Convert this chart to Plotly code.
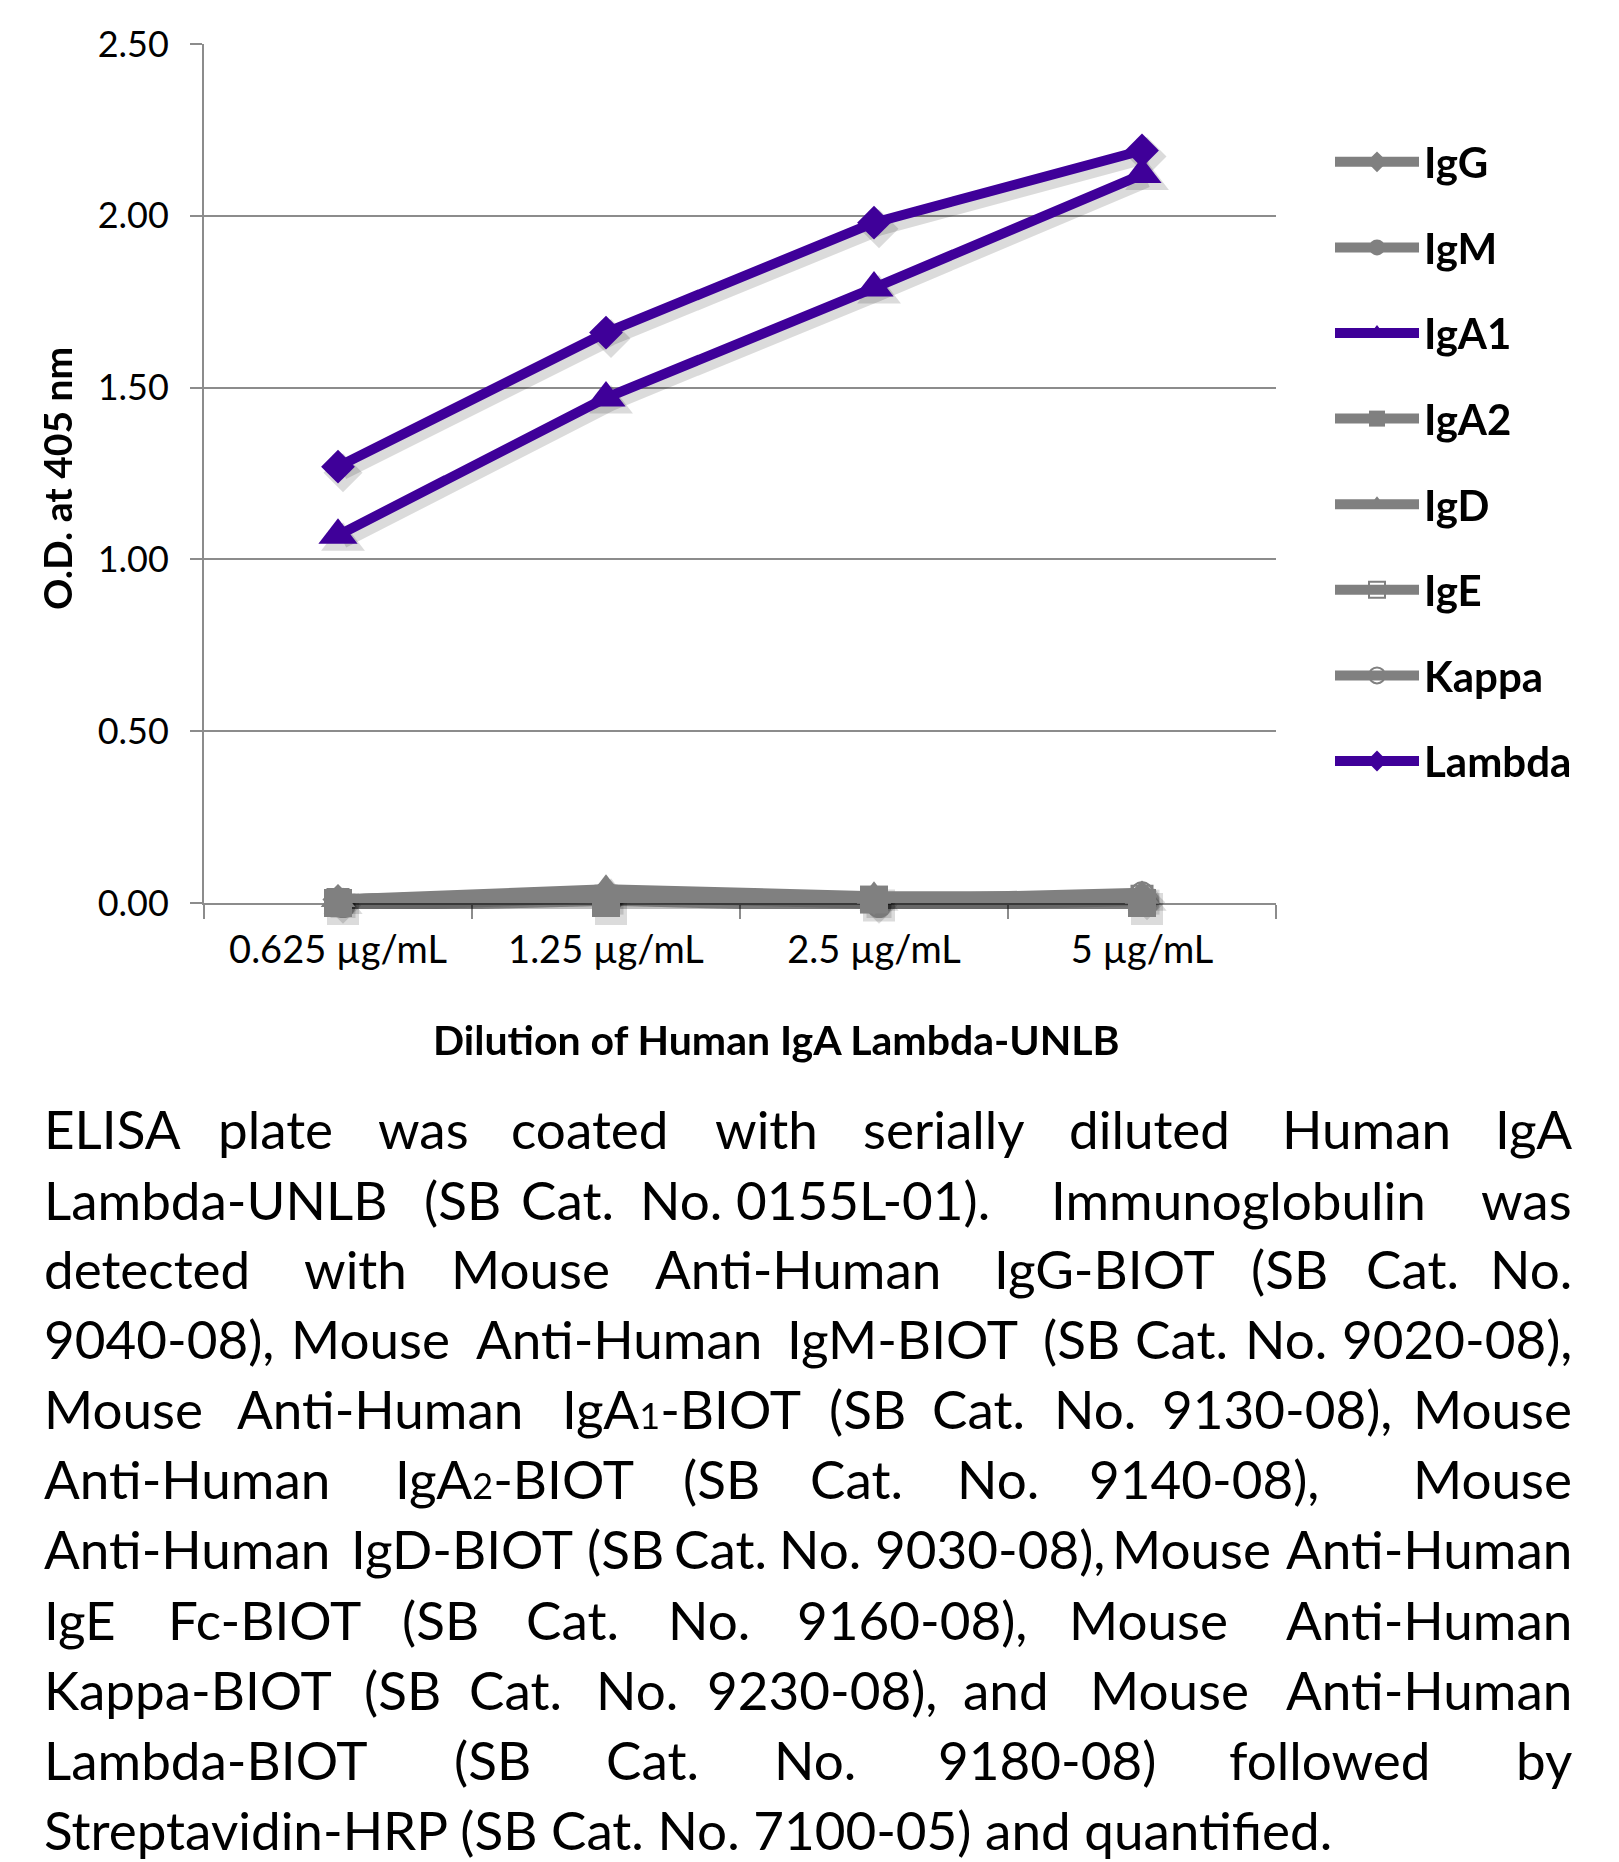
import plotly.graph_objects as go

# ---------------- data ----------------
categories = ["0.625 µg/mL", "1.25 µg/mL", "2.5 µg/mL", "5 µg/mL"]
series_names = ["IgG", "IgM", "IgA1", "IgA2", "IgD", "IgE", "Kappa", "Lambda"]
igg = [0.01, 0.03, 0.01, 0.02]
igm = [0.01, 0.03, 0.01, 0.02]
iga1 = [1.07, 1.47, 1.79, 2.12]
iga2 = [0.00, 0.00, 0.01, 0.00]
igd = [0.01, 0.04, 0.02, 0.02]
ige = [0.01, 0.02, 0.01, 0.02]
kappa = [0.01, 0.03, 0.01, 0.03]
lambda_ = [1.27, 1.66, 1.98, 2.19]
y_ticks = [0, 0.5, 1.0, 1.5, 2.0, 2.5]

x_title = "Dilution of Human IgA Lambda-UNLB"
y_title = "O.D. at 405 nm"

# ---------------- styling ----------------
W, H = 1619, 1862
FONT = "Lato, 'Open Sans', sans-serif"
PURPLE = "#3f0099"
GRAY = "#808080"
AXIS_GRAY = "#8c8c8c"

values = [igg, igm, iga1, iga2, igd, ige, kappa, lambda_]
colors = [GRAY, GRAY, PURPLE, GRAY, GRAY, GRAY, GRAY, PURPLE]
symbols = ["diamond", "circle", "triangle-up", "square", "triangle-up",
           "square-open", "circle-open", "diamond"]
sizes = [24, 21, 34, 28, 30, 21, 21, 26]

# plot area in pixels
PX0, PX1, PY0, PY1 = 204, 1276, 44, 903
xd = [PX0 / W, PX1 / W]
yd = [1 - PY1 / H, 1 - PY0 / H]
SDX, SDY = 5 / W, 6 / H

fig = go.Figure()

# invisible trace so the main (visual) axes know the categories
fig.add_trace(go.Scatter(x=categories, y=iga1, mode="markers", opacity=0,
                         showlegend=False, hoverinfo="skip",
                         xaxis="x", yaxis="y"))

# soft shadows (same data, drawn on an offset copy of the axes)
for name, vals, sym, sz in zip(series_names, values, symbols, sizes):
    fig.add_trace(go.Scatter(
        x=categories, y=vals, mode="lines+markers", showlegend=False,
        hoverinfo="skip", cliponaxis=False,
        line=dict(color="rgba(0,0,0,0.14)", width=14),
        marker=dict(symbol=sym.replace("-open", ""), size=sz + 4,
                    color="rgba(0,0,0,0.14)"),
        xaxis="x2", yaxis="y2"))

# data
for name, vals, col, sym, sz in zip(series_names, values, colors, symbols, sizes):
    marker = dict(symbol=sym, size=sz, color=col)
    if sym.endswith("-open"):
        marker["line"] = dict(color=col, width=2)
    fig.add_trace(go.Scatter(
        x=categories, y=vals, mode="lines+markers", name=name,
        legendgroup=name, cliponaxis=False,
        line=dict(color=col, width=10),
        marker=marker,
        xaxis="x3", yaxis="y3"))

hidden = dict(visible=False, fixedrange=True, showgrid=False, zeroline=False,
              automargin=False)

fig.update_layout(
    width=W, height=H, autosize=False,
    margin=dict(l=0, r=0, t=0, b=0, autoexpand=False),
    paper_bgcolor="white", plot_bgcolor="rgba(0,0,0,0)",
    font=dict(family=FONT, color="black"),
    showlegend=True,
    xaxis=dict(domain=xd, anchor="y", type="category", automargin=False,
               categoryorder="array", categoryarray=categories,
               range=[-0.5, 3.5], showgrid=False, zeroline=False,
               showline=True, linecolor=AXIS_GRAY, linewidth=2,
               ticks="outside", tickson="boundaries", ticklen=14,
               tickcolor=AXIS_GRAY, tickwidth=2,
               tickfont=dict(family=FONT, size=38, color="black"),
               ticklabelstandoff=12),
    yaxis=dict(domain=yd, anchor="x", range=[0, 2.5], automargin=False,
               tickvals=y_ticks, tickformat=".2f",
               showgrid=True, gridcolor=AXIS_GRAY, gridwidth=2,
               zeroline=False, showline=True, linecolor=AXIS_GRAY,
               linewidth=2, ticks="outside", ticklen=12,
               tickcolor=AXIS_GRAY, tickwidth=2,
               tickfont=dict(family=FONT, size=36, color="black"),
               ticklabelstandoff=14),
    xaxis2=dict(domain=[xd[0] + SDX, xd[1] + SDX], anchor="y2", type="category",
                categoryorder="array", categoryarray=categories,
                range=[-0.5, 3.5], **hidden),
    yaxis2=dict(domain=[yd[0] - SDY, yd[1] - SDY], anchor="x2", range=[0, 2.5],
                **hidden),
    xaxis3=dict(domain=xd, anchor="y3", type="category",
                categoryorder="array", categoryarray=categories,
                range=[-0.5, 3.5], **hidden),
    yaxis3=dict(domain=yd, anchor="x3", range=[0, 2.5], **hidden),
    legend=dict(x=1330 / W, y=1 - 128 / H, xanchor="left", yanchor="top",
                bgcolor="rgba(0,0,0,0)", tracegroupgap=28,
                font=dict(family=FONT, size=42, color="black", weight="bold"),
                itemsizing="trace", itemwidth=84),
)

annotations = [
    dict(text=f"<b>{y_title}</b>", x=57 / W, y=1 - 479 / H, xref="paper", yref="paper",
         textangle=-90, showarrow=False, xanchor="center", yanchor="middle",
         font=dict(family=FONT, size=39, color="black")),
    dict(text=f"<b>{x_title}</b>", x=776 / W, y=1 - 1039 / H, xref="paper", yref="paper",
         showarrow=False, xanchor="center", yanchor="middle",
         font=dict(family=FONT, size=41, color="black")),
]

# ---------------- caption (justified by word placement, full-size pixels) ----------------
S = W / 1363.0  # line heights were measured at 1363 px width
CAP_FONT = dict(family=FONT, size=53, color="black")
RIGHT = 1574
sub1 = "<span style='font-size:36px'>1</span>"
sub2 = "<span style='font-size:36px'>2</span>"
caption_lines = [
    (950, [("ELISA", 42), ("plate", 216), ("was", 376), ("coated", 509), ("with", 713),
           ("serially", 861), ("diluted", 1067), ("Human", 1280), ("IgA", None)]),
    (1010, [("Lambda-UNLB", 42), ("(SB", 422), ("Cat.", 519), ("No.", 638),
            ("0155L-01).", 734), ("Immunoglobulin", 1049), ("was", None)]),
    (1068, [("detected", 42), ("with", 302), ("Mouse", 449), ("Anti-Human", 653),
            ("IgG-BIOT", 992), ("(SB", 1249), ("Cat.", 1364), ("No.", None)]),
    (1127, [("9040-08),", 42), ("Mouse", 289), ("Anti-Human", 474), ("IgM-BIOT", 785),
            ("(SB", 1041), ("Cat.", 1133), ("No.", 1243), ("9020-08),", None)]),
    (1186, [("Mouse", 42), ("Anti-Human", 235), (f"IgA{sub1}-BIOT", 560), ("(SB", 827),
            ("Cat.", 930), ("No.", 1052), ("9130-08),", 1160), ("Mouse", None)]),
    (1245, [("Anti-Human", 42), (f"IgA{sub2}-BIOT", 393), ("(SB", 681), ("Cat.", 808),
            ("No.", 955), ("9140-08),", 1087), ("Mouse", None)]),
    (1304, [("Anti-Human", 42), ("IgD-BIOT", 349), ("(SB", 585), ("Cat.", 672),
            ("No.", 777), ("9030-08),", 873), ("Mouse", 1110), ("Anti-Human", None)]),
    (1363, [("IgE", 42), ("Fc-BIOT", 166), ("(SB", 400), ("Cat.", 524), ("No.", 666),
            ("9160-08),", 795), ("Mouse", 1067), ("Anti-Human", None)]),
    (1422, [("Kappa-BIOT", 42), ("(SB", 362), ("Cat.", 467), ("No.", 594),
            ("9230-08),", 705), ("and", 961), ("Mouse", 1088), ("Anti-Human", None)]),
    (1481, [("Lambda-BIOT", 42), ("(SB", 452), ("Cat.", 604), ("No.", 772),
            ("9180-08)", 936), ("followed", 1227), ("by", None)]),
    (1540, [("Streptavidin-HRP (SB Cat. No. 7100-05) and quantified.", 42)]),
]
for yline, words in caption_lines:
    for word, xl in words:
        if xl is None:
            x, anchor = RIGHT, "right"
        else:
            x, anchor = xl, "left"
        annotations.append(dict(text=word, x=x / W, y=1 - (yline * S) / H,
                                xref="paper", yref="paper", showarrow=False,
                                xanchor=anchor, yanchor="middle",
                                font=CAP_FONT))

fig.update_layout(annotations=annotations)

fig.write_html("out.html", config={"displayModeBar": False},
               post_script="document.body.style.margin='0';")
